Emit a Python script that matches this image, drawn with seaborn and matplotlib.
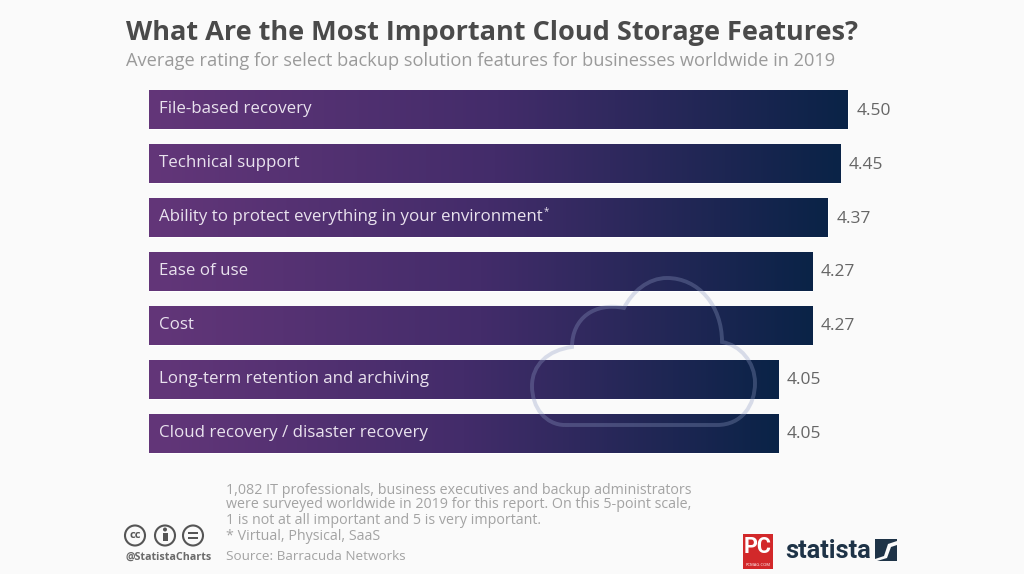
import matplotlib.pyplot as plt
import numpy as np
import pandas as pd
import seaborn as sns
from matplotlib.colors import LinearSegmentedColormap
from matplotlib.patches import Circle, PathPatch, Polygon, Rectangle
from matplotlib.path import Path

features = [
    "File-based recovery",
    "Technical support",
    "Ability to protect everything in your environment",
    "Ease of use",
    "Cost",
    "Long-term retention and archiving",
    "Cloud recovery / disaster recovery",
]
ratings = [4.50, 4.45, 4.37, 4.27, 4.27, 4.05, 4.05]
rating_labels = ["4.50", "4.45", "4.37", "4.27", "4.27", "4.05", "4.05"]

title = "What Are the Most Important Cloud Storage Features?"
subtitle = "Average rating for select backup solution features for businesses worldwide in 2019"
notes = [
    "1,082 IT professionals, business executives and backup administrators",
    "were surveyed worldwide in 2019 for this report. On this 5-point scale,",
    "1 is not at all important and 5 is very important.",
    "* Virtual, Physical, SaaS",
]
source = "Source: Barracuda Networks"

BG = "#fafafa"
W, H = 1024, 574

sns.set_theme(style="white")
plt.rcParams["font.family"] = ["Open Sans", "DejaVu Sans"]

fig = plt.figure(figsize=(W / 100, H / 100), dpi=100, facecolor=BG)

# chart axes placed so that bars line up with the reference pixels
ax = fig.add_axes([149 / W, 1 - 460.5 / H, 714.5 / W, 377.5 / H])
ax.set_facecolor("none")
df = pd.DataFrame({"feature": features, "rating": ratings})
sns.barplot(data=df, y="feature", x="rating", ax=ax, width=0.715, color="#3a2a66", saturation=1)
ax.set_xlim(0, 4.6)
ax.set_ylim(6.5, -0.5)
ax.set_xlabel("")
ax.set_ylabel("")
ax.set_xticks([])
ax.set_yticks([])
sns.despine(ax=ax, left=True, bottom=True)

# horizontal gradient over each bar
grad = LinearSegmentedColormap.from_list("bar", ["#633679", "#432c6a", "#0a2347"])
ramp = np.linspace(0, 1, 256).reshape(1, -1)
for patch in ax.containers[0]:
    x0, y0 = patch.get_x(), patch.get_y()
    ax.imshow(ramp, cmap=grad, aspect="auto", zorder=2,
              extent=[x0, x0 + patch.get_width(), y0 + patch.get_height(), y0])
ax.set_xlim(0, 4.6)
ax.set_ylim(6.5, -0.5)

for i, name in enumerate(features):
    ax.annotate(name, xy=(0, i), xytext=(7.5, 0.5), textcoords="offset points",
                color="#e9e2ee", fontsize=12.2, va="center", zorder=4)
    ax.annotate(rating_labels[i], xy=(ratings[i], i), xytext=(6.2, -0.5), textcoords="offset points",
                color="#666666", fontsize=12.5, va="center")

# overlay in reference pixel coordinates for the decoration
ov = fig.add_axes([0, 0, 1, 1], zorder=5)
ov.set_xlim(0, W)
ov.set_ylim(H, 0)
ov.axis("off")

cloud_verts = [
    (565, 425), (717, 425),
    (742, 425), (755, 405), (755, 383),
    (755, 362), (740, 345), (722, 342),
    (722, 305), (698, 278), (667, 278),
    (648, 278), (632, 292), (624, 308),
    (595, 302), (572, 318), (572, 347),
    (548, 350), (532, 365), (532, 386),
    (532, 408), (546, 425), (565, 425),
]
cloud_codes = [Path.MOVETO, Path.LINETO] + [Path.CURVE4] * 21
ov.add_patch(PathPatch(Path(cloud_verts, cloud_codes), fill=False,
                       ec="#8f9cc4", lw=2.8, alpha=0.32))

ov.text(126, 33, title, fontsize=19.55, fontweight="bold", color="#4a4a4a", va="center")
ov.text(126, 61, subtitle, fontsize=13.15, color="#9a9a9a", va="center")
ov.text(544, 212, "*", fontsize=7, color="#e9e2ee", va="center")

for y, line in zip([490, 505, 520, 536], notes):
    ov.text(226, y, line, fontsize=10.3, color="#a3a3a3", va="center")
ov.text(226, 556, source, fontsize=9.7, color="#a3a3a3", va="center")

# cc icons
icon_col = "#555555"
for cx in (135, 165, 193):
    ov.add_patch(Circle((cx, 535.5), 10, fill=False, ec=icon_col, lw=1.5))
ov.text(135, 535, "cc", fontsize=8, fontweight="bold", color=icon_col, ha="center", va="center")
ov.add_patch(Circle((165, 529.5), 2, fc=icon_col, ec="none"))
ov.add_patch(Rectangle((162.5, 532.5), 5, 8.5, fc=icon_col, ec="none"))
ov.add_patch(Rectangle((188, 532), 10, 2, fc=icon_col, ec="none"))
ov.add_patch(Rectangle((188, 537), 10, 2, fc=icon_col, ec="none"))
ov.text(126, 557, "@StatistaCharts", fontsize=7.75, fontweight="bold", color="#6a6a6a", va="center")

# logos
ov.add_patch(Rectangle((743, 534), 30, 35, fc="#d2282a", ec="none"))
ov.text(758, 547, "PC", fontsize=15.5, fontweight="bold", color="white", ha="center", va="center",
        family="Roboto")
ov.text(758, 565, "PCMAG.COM", fontsize=3, color="white", ha="center", va="center")
ov.text(785, 551, "statista", fontsize=18.3, fontweight="bold", color="#1e3347", va="center",
        family="Roboto")
ov.add_patch(Rectangle((875, 539), 22, 22, fc="#1e3347", ec="none"))
ov.add_patch(Polygon([(875, 559), (884, 556), (888, 544), (897, 541), (897, 545), (891, 547),
                      (887, 558), (877, 561), (875, 561)], fc=BG, ec="none"))

fig.savefig("out.png", dpi=100, facecolor=BG)
